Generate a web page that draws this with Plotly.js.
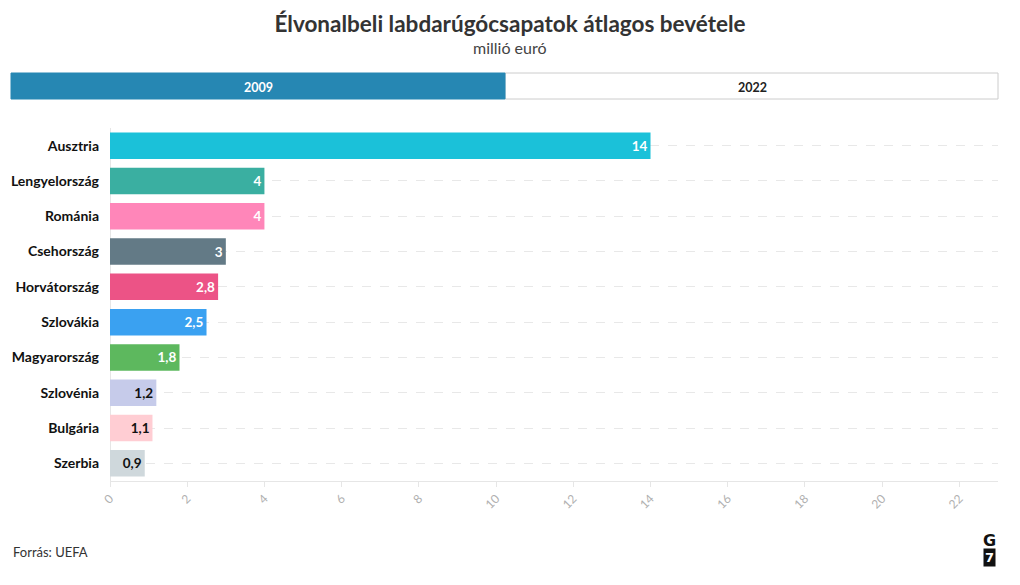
<!DOCTYPE html>
<html>
<head>
<meta charset="utf-8">
<script src="https://cdn.plot.ly/plotly-3.0.1.min.js"></script>
<style>
html,body{margin:0;padding:0;background:#fff;}
#chart{width:1020px;height:585px;}
</style>
</head>
<body>
<div id="chart"></div>
<script>
const countries = ["Ausztria","Lengyelország","Románia","Csehország","Horvátország","Szlovákia","Magyarország","Szlovénia","Bulgária","Szerbia"];
const values2009 = [14, 4, 4, 3, 2.8, 2.5, 1.8, 1.2, 1.1, 0.9];
const barColors = ["#1bc1d9","#3aafa1","#ff86b9","#637a86","#ec5386","#3aa1f1","#5db85e","#c6cbea","#ffcdd3","#cfd8dc"];
const labelColors = ["#ffffff","#ffffff","#ffffff","#ffffff","#ffffff","#ffffff","#ffffff","#111111","#111111","#111111"];
const xTicks = [0,2,4,6,8,10,12,14,16,18,20,22];
const tabLabels = ["2009","2022"];

const FONT = "Lato, 'Noto Sans', sans-serif";
const L = 110, R = 998, T = 128, B = 481;
const px = x => (x - L) / (R - L);
const py = y => (B - y) / (B - T);

const trace = {
  type: "bar",
  orientation: "h",
  y: countries,
  x: values2009,
  marker: {color: barColors},
  text: values2009.map(v => String(v).replace(".", ",")),
  textposition: "inside",
  insidetextanchor: "end",
  textangle: 0,
  constraintext: "none",
  textfont: {family: FONT, size: 13.5, color: labelColors, weight: "bold"},
  hoverinfo: "y+x",
  cliponaxis: false
};

const layout = {
  width: 1020, height: 585,
  margin: {l: L, r: 1020 - R, t: T, b: 585 - B, pad: 0},
  paper_bgcolor: "#fff", plot_bgcolor: "#fff",
  font: {family: FONT, color: "#333"},
  showlegend: false,
  bargap: 0.25,
  title: {
    text: "<b>Élvonalbeli labdarúgócsapatok átlagos bevétele</b>",
    font: {family: FONT, size: 22.5, color: "#333"},
    x: 0.5, xref: "container", xanchor: "center",
    y: 1 - 24/585, yref: "container", yanchor: "middle"
  },
  xaxis: {
    range: [0, 23],
    tickvals: xTicks,
    ticktext: xTicks.map(String),
    tickangle: -45,
    tickfont: {family: FONT, size: 12, color: "#b0b0b0"},
    ticks: "outside", ticklen: 5, tickcolor: "#e6e6e6",
    showgrid: false,
    zeroline: true, zerolinecolor: "#e6e6e6", zerolinewidth: 1,
    showline: true, linecolor: "#e6e6e6", linewidth: 1,
    fixedrange: true
  },
  yaxis: {
    type: "category",
    autorange: "reversed",
    tickfont: {family: FONT, size: 14, color: "#111", weight: "bold"},
    ticklabelstandoff: 10,
    showgrid: true, gridcolor: "#e8e8e8", griddash: "dash", gridwidth: 1,
    showline: false, zeroline: false,
    fixedrange: true
  },
  shapes: [
    {type: "rect", xref: "paper", yref: "paper", x0: px(505), x1: px(998), y0: py(99), y1: py(73),
     fillcolor: "#ffffff", line: {color: "#cccccc", width: 1}, layer: "above"},
    {type: "rect", xref: "paper", yref: "paper", x0: px(11), x1: px(505), y0: py(99), y1: py(73),
     fillcolor: "#2687b3", line: {color: "#2687b3", width: 1}, layer: "above"}
  ],
  annotations: [
    {text: "millió euró", xref: "paper", yref: "paper", x: px(510), y: py(47), xanchor: "center", yanchor: "middle",
     showarrow: false, font: {family: FONT, size: 16, color: "#444"}},
    {text: "<b>" + tabLabels[0] + "</b>", xref: "paper", yref: "paper", x: px(258), y: py(87), xanchor: "center", yanchor: "middle",
     showarrow: false, font: {family: FONT, size: 12.5, color: "#ffffff"}},
    {text: "<b>" + tabLabels[1] + "</b>", xref: "paper", yref: "paper", x: px(752), y: py(87), xanchor: "center", yanchor: "middle",
     showarrow: false, font: {family: FONT, size: 12.5, color: "#222"}},
    {text: "Forrás: UEFA", xref: "paper", yref: "paper", x: px(11), y: py(552), xanchor: "left", yanchor: "middle",
     showarrow: false, font: {family: FONT, size: 13, color: "#333"}},
    {text: "<b>G</b>", xref: "paper", yref: "paper", x: px(989), y: py(540), xanchor: "center", yanchor: "middle",
     showarrow: false, font: {family: "'DejaVu Sans', sans-serif", size: 16, color: "#111"}},
    {text: "<b>7</b>", xref: "paper", yref: "paper", x: px(989), y: py(557), xanchor: "center", yanchor: "middle",
     showarrow: false, bgcolor: "#111", borderpad: 1, font: {family: "'DejaVu Sans', sans-serif", size: 13, color: "#fff"}}
  ]
};

Plotly.newPlot("chart", [trace], layout, {displayModeBar: false, responsive: false});
</script>
</body>
</html>
